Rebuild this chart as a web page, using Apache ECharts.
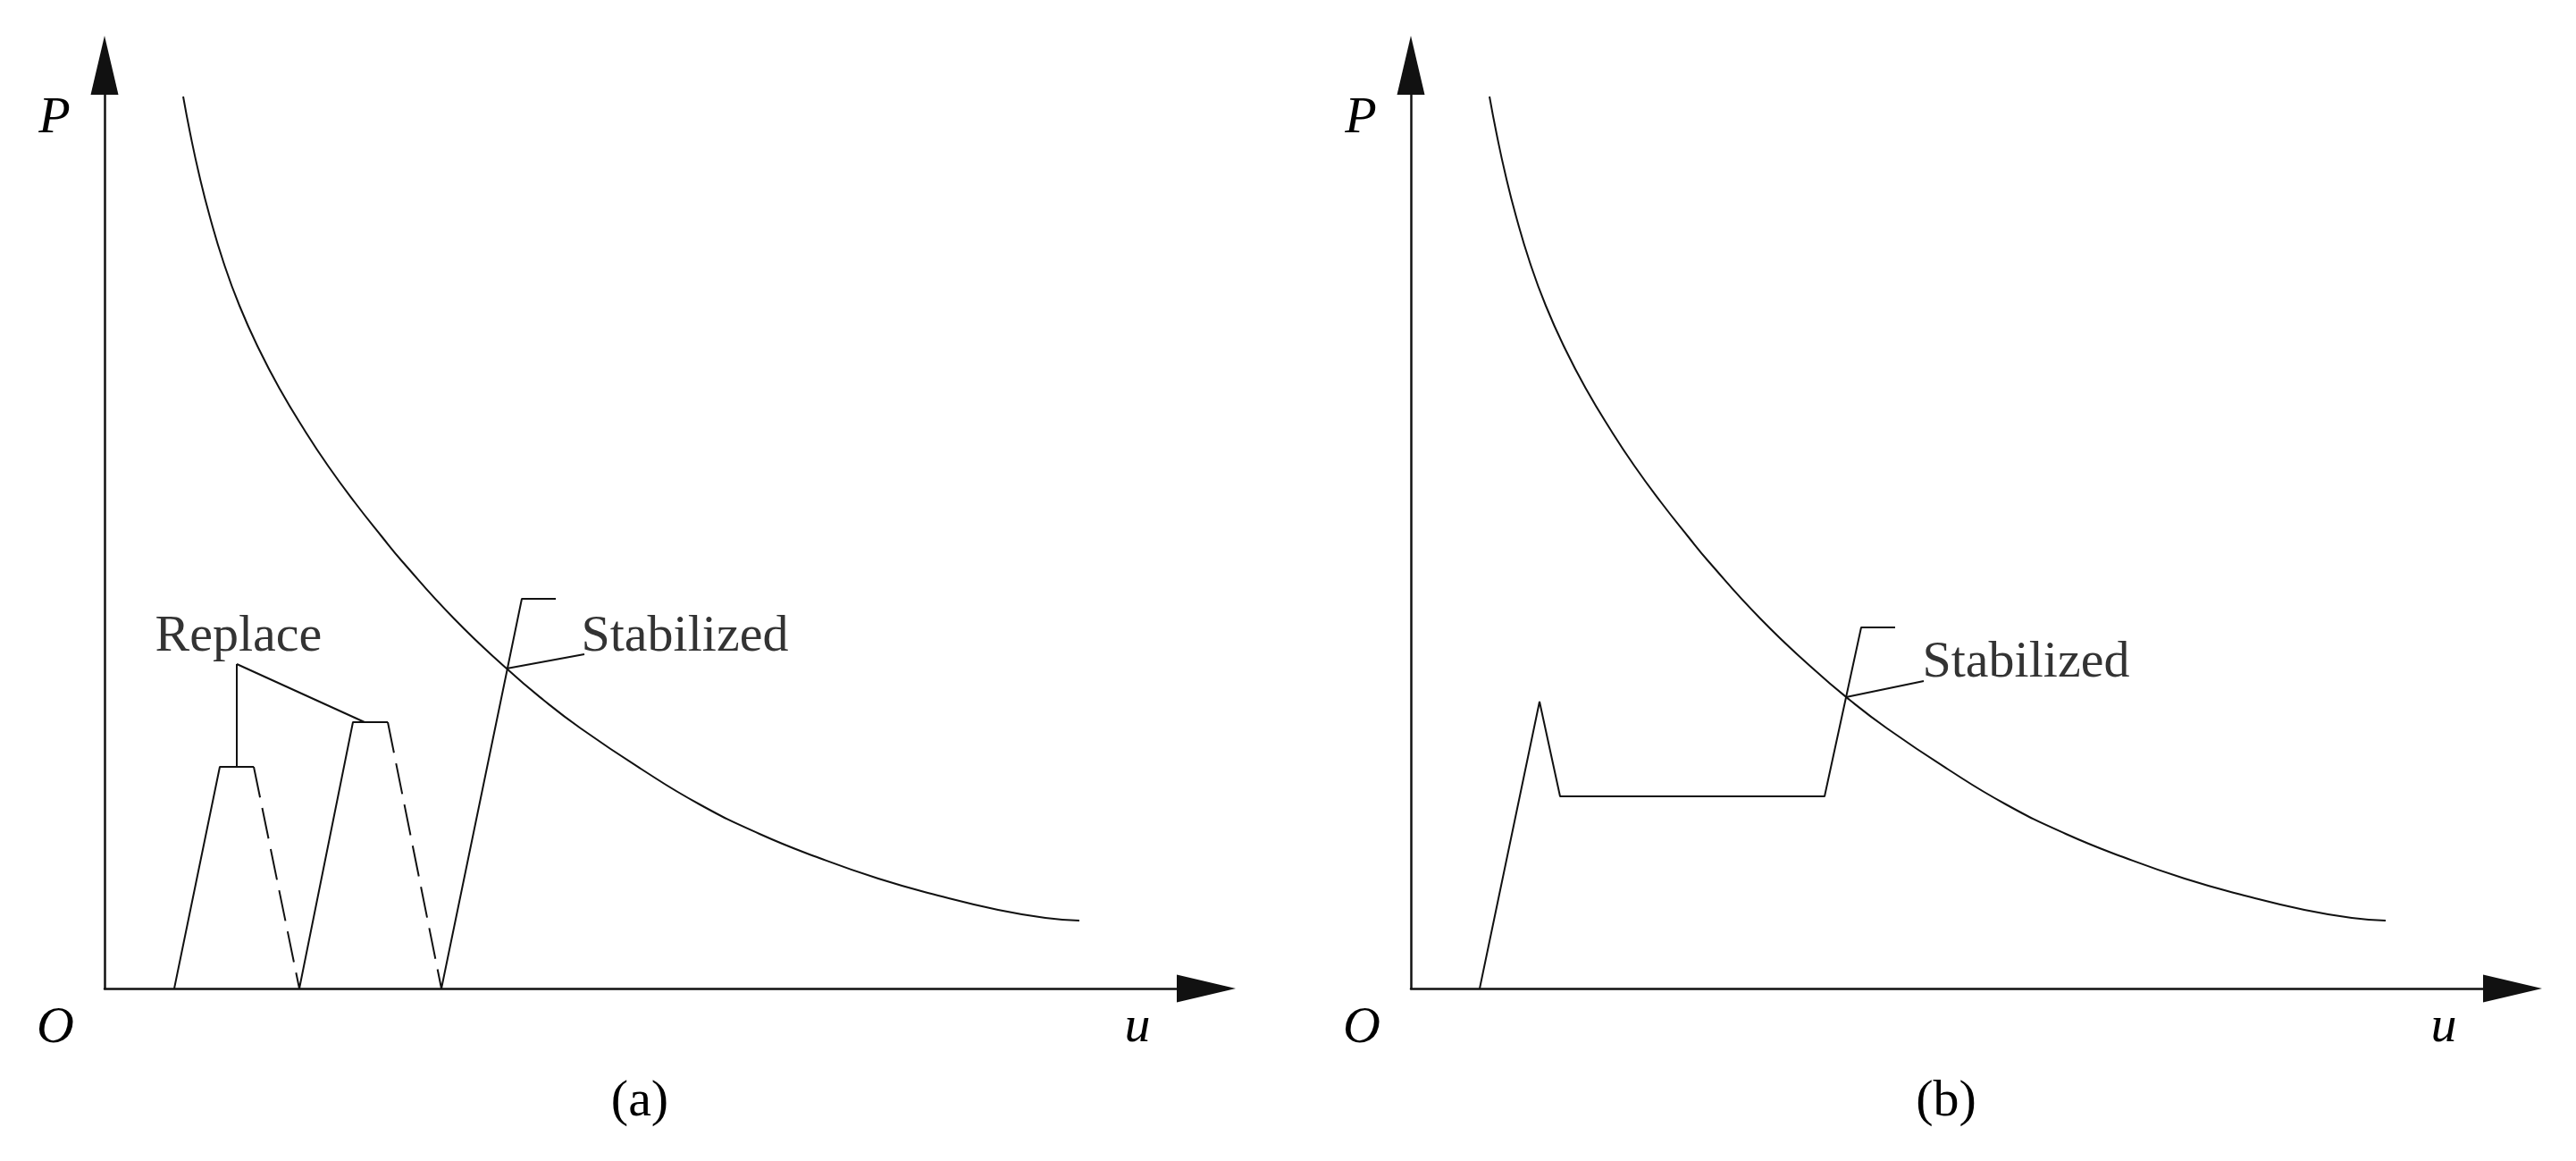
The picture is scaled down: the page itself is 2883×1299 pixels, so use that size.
<!DOCTYPE html>
<html>
<head>
<meta charset="utf-8">
<script src="https://cdn.jsdelivr.net/npm/echarts@6/dist/echarts.min.js"></script>
<style>
html,body{margin:0;padding:0;background:#ffffff;}
#chart{width:2883px;height:1299px;}
</style>
</head>
<body>
<div id="chart"></div>
<script>
// ---------------- data (u, P) ----------------
// limit curve (same in both panels)
const limitCurve = [
  [0.88, 9.98], [0.96, 9.56], [1.06, 9.10], [1.18, 8.63], [1.33, 8.13],
  [1.51, 7.64], [1.73, 7.15], [1.96, 6.71], [2.23, 6.26], [2.50, 5.85],
  [2.80, 5.44], [3.10, 5.06], [3.33, 4.78], [3.91, 4.14], [4.50, 3.58],
  [4.91, 3.23], [5.33, 2.91], [6.00, 2.46], [6.66, 2.06], [7.33, 1.73],
  [8.00, 1.46], [8.66, 1.23], [9.33, 1.04], [10.00, 0.88], [10.53, 0.79],
  [10.91, 0.76]
];
// panel (a): loading paths
const aLoad1 = [[0.78, 0], [1.29, 2.48], [1.67, 2.48]];
const aUnload1 = [[1.67, 2.48], [2.18, 0]];
const aLoad2 = [[2.18, 0], [2.78, 2.98], [3.17, 2.98]];
const aUnload2 = [[3.17, 2.98], [3.77, 0]];
const aLoad3 = [[3.77, 0], [4.67, 4.36], [5.05, 4.36]];
// panel (a): leader lines
const aReplaceLeader1 = [[1.48, 3.63], [1.48, 2.48]];
const aReplaceLeader2 = [[1.48, 3.63], [2.91, 2.98]];
const aStabLeader = [[4.50, 3.58], [5.37, 3.74]];
// panel (b): loading path and leader
const bLoad = [[0.77, 0], [1.44, 3.21], [1.67, 2.15], [4.63, 2.15], [5.04, 4.04], [5.42, 4.04]];
const bStabLeader = [[4.87, 3.26], [5.74, 3.44]];
// annotation anchors (left edge, text middle)
const aNotes = [{ name: 'Replace', value: [0.56, 3.93] }, { name: 'Stabilized', value: [5.33, 3.93] }];
const bNotes = [{ name: 'Stabilized', value: [5.72, 3.64] }];
// axis ranges and texts
const uRange = [0, 12];
const pRange = [0, 10];
const captions = ['(a)', '(b)'];
const axisNames = { y: 'P', x: 'u', origin: 'O' };

// ---------------- layout / style ----------------
const INK = '#111111';
const FONT = '"Liberation Serif", "Times New Roman", serif';
const FS = 58;
const TOP = 106, GW = 1200, GH = 1000, BOTTOMY = TOP + GH;
const lefts = [117, 1579];

const chart = echarts.init(document.getElementById('chart'), null, { renderer: 'canvas' });

function axisCommon(range) {
  return {
    type: 'value', min: range[0], max: range[1],
    splitLine: { show: false }, axisTick: { show: false }, axisLabel: { show: false },
    axisLine: {
      show: true, onZero: false,
      lineStyle: { color: INK, width: 2.5 },
      symbol: ['none', 'triangle'], symbolSize: [31, 66], symbolOffset: [0, 33]
    }
  };
}

const grids = lefts.map(l => ({ left: l, top: TOP, width: GW, height: GH, containLabel: false }));
const xAxes = lefts.map((l, i) => Object.assign(axisCommon(uRange), { gridIndex: i }));
const yAxes = lefts.map((l, i) => Object.assign(axisCommon(pRange), { gridIndex: i }));

function line(data, gi, opts) {
  opts = opts || {};
  return {
    type: 'line', xAxisIndex: gi, yAxisIndex: gi, data: data,
    symbol: 'none', silent: true, clip: false, animation: false,
    smooth: opts.smooth || false,
    lineStyle: { color: INK, width: opts.width || 2, type: opts.dash || 'solid' },
    z: 3
  };
}
function notes(data, gi) {
  return {
    type: 'scatter', xAxisIndex: gi, yAxisIndex: gi, data: data,
    symbol: 'circle', symbolSize: 1, itemStyle: { color: 'rgba(0,0,0,0)' },
    silent: true, animation: false,
    label: {
      show: true, formatter: p => p.name, position: 'right', distance: 0,
      align: 'left', verticalAlign: 'middle',
      fontFamily: FONT, fontSize: FS, color: '#000000'
    },
    z: 4
  };
}

const DASH = [35, 12];
const series = [
  line(limitCurve, 0, { smooth: 0.5 }),
  line(aLoad1, 0), line(aUnload1, 0, { dash: DASH }),
  line(aLoad2, 0), line(aUnload2, 0, { dash: DASH }),
  line(aLoad3, 0),
  line(aReplaceLeader1, 0), line(aReplaceLeader2, 0), line(aStabLeader, 0),
  notes(aNotes, 0),
  line(limitCurve, 1, { smooth: 0.5 }),
  line(bLoad, 1), line(bStabLeader, 1),
  notes(bNotes, 1)
];

const graphic = [];
lefts.forEach((l, i) => {
  const italic = 'italic ' + FS + 'px ' + FONT;
  graphic.push({ type: 'text', x: l - 56, y: TOP + 27, silent: true,
    style: { text: axisNames.y, font: italic, fill: '#000', align: 'center', verticalAlign: 'middle' } });
  graphic.push({ type: 'text', x: l - 55, y: BOTTOMY + 45, silent: true,
    style: { text: axisNames.origin, font: italic, fill: '#000', align: 'center', verticalAlign: 'middle' } });
  graphic.push({ type: 'text', x: l + 1156, y: BOTTOMY + 44, silent: true,
    style: { text: axisNames.x, font: italic, fill: '#000', align: 'center', verticalAlign: 'middle' } });
  graphic.push({ type: 'text', x: l + 599, y: BOTTOMY + 127, silent: true,
    style: { text: captions[i], font: FS + 'px ' + FONT, fill: '#000', align: 'center', verticalAlign: 'middle' } });
});

chart.setOption({
  backgroundColor: '#ffffff',
  animation: false,
  grid: grids,
  xAxis: xAxes,
  yAxis: yAxes,
  series: series,
  graphic: graphic
});
</script>
</body>
</html>
